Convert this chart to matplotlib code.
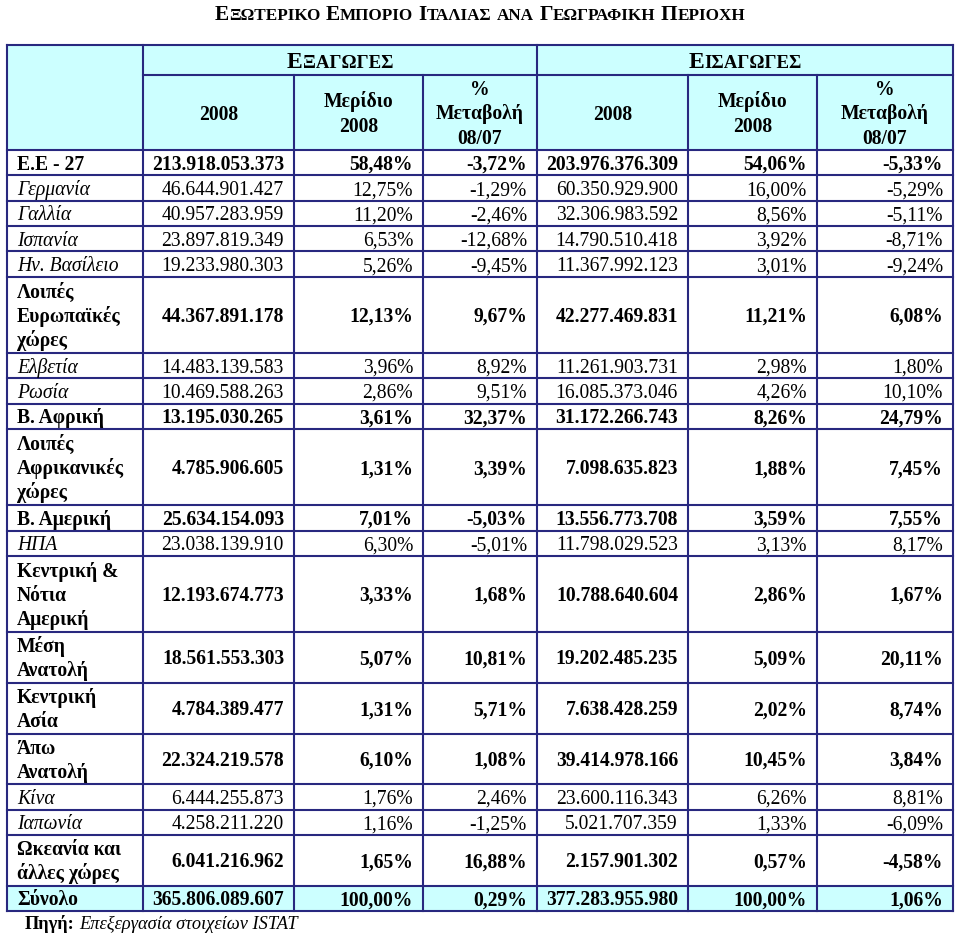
import matplotlib
matplotlib.use("Agg")
import matplotlib.pyplot as plt
from matplotlib.patches import Rectangle

# ---------------- data ----------------
title = "Εξωτερικο Εμποριο Ιταλιας ανα Γεωγραφικη Περιοχη"
flow_headers = ["Εξαγωγες", "Εισαγωγες"]
column_headers = ["2008", "Μερίδιο\n2008", "%\nΜεταβολή\n08/07"]

regions = [
    "Ε.Ε - 27", "Γερμανία", "Γαλλία", "Ισπανία", "Ην. Βασίλειο",
    "Λοιπές\nΕυρωπαϊκές\nχώρες", "Ελβετία", "Ρωσία", "Β. Αφρική",
    "Λοιπές\nΑφρικανικές\nχώρες", "Β. Αμερική", "ΗΠΑ",
    "Κεντρική &\nΝότια\nΑμερική", "Μέση\nΑνατολή", "Κεντρική\nΑσία",
    "Άπω\nΑνατολή", "Κίνα", "Ιαπωνία", "Ωκεανία και\nάλλες χώρες", "Σύνολο",
]
is_aggregate = [True, False, False, False, False,
                True, False, False, True,
                True, True, False,
                True, True, True,
                True, False, False, True, True]

exports_value = [213918053373, 46644901427, 40957283959, 23897819349, 19233980303,
                 44367891178, 14483139583, 10469588263, 13195030265,
                 4785906605, 25634154093, 23038139910,
                 12193674773, 18561553303, 4784389477,
                 22324219578, 6444255873, 4258211220, 6041216962, 365806089607]
exports_share = [58.48, 12.75, 11.20, 6.53, 5.26,
                 12.13, 3.96, 2.86, 3.61,
                 1.31, 7.01, 6.30,
                 3.33, 5.07, 1.31,
                 6.10, 1.76, 1.16, 1.65, 100.00]
exports_change = [-3.72, -1.29, -2.46, -12.68, -9.45,
                  9.67, 8.92, 9.51, 32.37,
                  3.39, -5.03, -5.01,
                  1.68, 10.81, 5.71,
                  1.08, 2.46, -1.25, 16.88, 0.29]
imports_value = [203976376309, 60350929900, 32306983592, 14790510418, 11367992123,
                 42277469831, 11261903731, 16085373046, 31172266743,
                 7098635823, 13556773708, 11798029523,
                 10788640604, 19202485235, 7638428259,
                 39414978166, 23600116343, 5021707359, 2157901302, 377283955980]
imports_share = [54.06, 16.00, 8.56, 3.92, 3.01,
                 11.21, 2.98, 4.26, 8.26,
                 1.88, 3.59, 3.13,
                 2.86, 5.09, 2.02,
                 10.45, 6.26, 1.33, 0.57, 100.00]
imports_change = [-5.33, -5.29, -5.11, -8.71, -9.24,
                  6.08, 1.80, 10.10, 24.79,
                  7.45, 7.55, 8.17,
                  1.67, 20.11, 8.74,
                  3.84, 8.81, -6.09, -4.58, 1.06]

source_label = "Πηγή:"
source_text = "Επεξεργασία στοιχείων ISTAT"

# ---------------- formatting helpers ----------------
def fmt_int(v):
    return f"{v:,}".replace(",", ".")

def fmt_pct(p):
    return f"{p:.2f}".replace(".", ",") + "%"

# ---------------- figure ----------------
W, H = 960, 935
fig = plt.figure(figsize=(W / 100, H / 100), dpi=100)
ax = fig.add_axes([0, 0, 1, 1])
ax.set_xlim(0, W)
ax.set_ylim(H, 0)
ax.axis("off")

FONT = "Liberation Serif"
FS = 14.1
BORDER = "#28287f"
CYAN = "#ccffff"
LW = 1.5
renderer = fig.canvas.get_renderer()


def text_width(s, size, weight="normal", style="normal"):
    t = ax.text(0, 0, s, fontsize=size, family=FONT, fontweight=weight, fontstyle=style)
    w = t.get_window_extent(renderer).width
    t.remove()
    return w


def smallcaps(s, xc, yb, size, ratio=0.8, weight="bold"):
    runs = []
    for ch in s:
        if ch == " ":
            kind, piece, sz = "sp", " ", size
        elif ch.isupper():
            kind, piece, sz = "big", ch, size
        else:
            kind, piece, sz = "small", ch.upper(), size * ratio
        if runs and runs[-1][2] == kind:
            runs[-1][0] += piece
        else:
            runs.append([piece, sz, kind])
    space_w = text_width("a a", size, weight) - text_width("aa", size, weight)
    widths = []
    for piece, sz, kind in runs:
        if kind == "sp":
            widths.append(space_w * len(piece))
        else:
            widths.append(text_width(piece, sz, weight))
    total = sum(widths)
    x = xc - total / 2
    for (piece, sz, kind), w in zip(runs, widths):
        if kind != "sp":
            ax.text(x, yb, piece, fontsize=sz, family=FONT, fontweight=weight,
                    ha="left", va="baseline", color="black")
        x += w


# layout
col_x = [7, 143, 294, 423, 537, 688, 817, 953]
y_top, y_mid, y_head = 45, 75, 150
line_h = 25.37
nlines = [r.count("\n") + 1 for r in regions]
row_y = [y_head]
for n in nlines:
    row_y.append(row_y[-1] + n * line_h)
y_bot = row_y[-1]

# backgrounds
ax.add_patch(Rectangle((col_x[0], y_top), col_x[-1] - col_x[0], y_head - y_top,
                       facecolor=CYAN, edgecolor="none", zorder=0))
ax.add_patch(Rectangle((col_x[0], row_y[-2]), col_x[-1] - col_x[0], row_y[-1] - row_y[-2],
                       facecolor=CYAN, edgecolor="none", zorder=0))

# grid lines
lk = dict(color=BORDER, lw=LW, zorder=2, solid_capstyle="projecting")
ax.plot([col_x[0], col_x[-1]], [y_top, y_top], **lk)
ax.plot([col_x[0], col_x[-1]], [y_bot, y_bot], **lk)
ax.plot([col_x[1], col_x[-1]], [y_mid, y_mid], **lk)
for y in row_y[:-1]:
    ax.plot([col_x[0], col_x[-1]], [y, y], **lk)
for i, x in enumerate(col_x):
    if i in (0, 1, 4, 7):
        ax.plot([x, x], [y_top, y_bot], **lk)
    else:
        ax.plot([x, x], [y_mid, y_bot], **lk)

# title
smallcaps(title, 480, 20, 15.4)

# group headers
smallcaps(flow_headers[0], (col_x[1] + col_x[4]) / 2, 68, 17.0)
smallcaps(flow_headers[1], (col_x[4] + col_x[7]) / 2, 68, 17.0)

# column headers
sub_spacing = 24.5
hdr_center = (y_mid + y_head) / 2
for g in range(2):
    for j, lab in enumerate(column_headers):
        c0, c1 = col_x[1 + 3 * g + j], col_x[2 + 3 * g + j]
        lines = lab.split("\n")
        n = len(lines)
        for k, ln in enumerate(lines):
            yb = hdr_center + 7 + (k - (n - 1) / 2) * sub_spacing
            ax.text((c0 + c1) / 2, yb, ln, fontsize=FS, family=FONT, fontweight="bold",
                    ha="center", va="baseline", color="black")

# body
pad = 10
body_spacing = 24
for i, lab in enumerate(regions):
    y0, y1 = row_y[i], row_y[i + 1]
    yc = (y0 + y1) / 2
    bold = is_aggregate[i]
    weight = "bold" if bold else "normal"
    style = "normal" if bold else "italic"
    lines = lab.split("\n")
    n = len(lines)
    for k, ln in enumerate(lines):
        yb = yc + 7 + (k - (n - 1) / 2) * body_spacing
        ax.text(col_x[0] + 10, yb, ln, fontsize=FS, family=FONT, fontweight=weight,
                fontstyle=style, ha="left", va="baseline", color="black")
    vals = [fmt_int(exports_value[i]), fmt_pct(exports_share[i]), fmt_pct(exports_change[i]),
            fmt_int(imports_value[i]), fmt_pct(imports_share[i]), fmt_pct(imports_change[i])]
    for j, v in enumerate(vals):
        ax.text(col_x[2 + j] - pad, yc + 7, v, fontsize=FS, family=FONT, fontweight=weight,
                ha="right", va="baseline", color="black")

# source note
x0 = 25
yb = 929
ax.text(x0, yb, source_label, fontsize=13.2, family=FONT, fontweight="bold",
        ha="left", va="baseline", color="black")
wl = text_width(source_label + " ", 13.2, "bold")
ax.text(x0 + wl, yb, source_text, fontsize=13.2, family=FONT, fontstyle="italic",
        ha="left", va="baseline", color="black")

fig.savefig("out.png", dpi=100, facecolor="white")
